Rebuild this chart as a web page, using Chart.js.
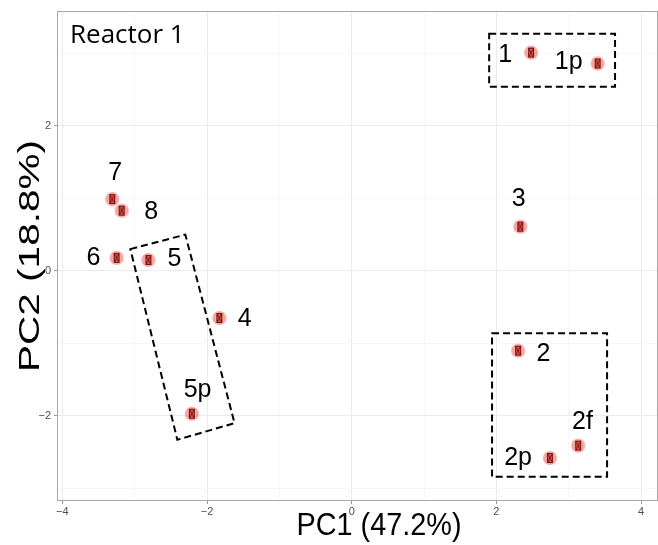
<!DOCTYPE html>
<html>
<head>
<meta charset="utf-8">
<script src="https://cdn.jsdelivr.net/npm/chart.js@4.4.0/dist/chart.umd.min.js"></script>
<style>
  html, body { margin: 0; padding: 0; background: #fff; }
  #wrap { width: 658px; height: 545px; }
</style>
</head>
<body>
<div id="wrap"><canvas id="pcaPlot" width="658" height="545"></canvas></div>
<script>
// PCA scores for the Reactor 1 samples
const sampleNames = ['1', '1p', '2', '2f', '2p', '3', '4', '5', '5p', '6', '7', '8'];
const pc1Scores = [2.48, 3.40, 2.30, 3.13, 2.74, 2.33, -1.83, -2.81, -2.21, -3.25, -3.31, -3.18];
const pc2Scores = [3.01, 2.86, -1.10, -2.41, -2.58, 0.61, -0.65, 0.15, -1.97, 0.18, 0.99, 0.83];

// where each sample name sits (data units)
const labelPc1 = [2.12, 3.00, 2.65, 3.19, 2.30, 2.31, -1.48, -2.45, -2.13, -3.57, -3.27, -2.77];
const labelPc2 = [3.01, 2.91, -1.12, -2.06, -2.56, 1.02, -0.64, 0.19, -1.61, 0.20, 1.38, 0.84];

// axis ticks
const xMajorTicks = [-4, -2, 0, 2, 4];
const xMinorTicks = [-3, -1, 1, 3];
const yMajorTicks = [-2, 0, 2];
const yMinorTicks = [-3, -1, 1, 3];

// dashed groupings (corners in data units)
const group1Corners = [[1.90, 3.27], [3.64, 3.27], [3.64, 2.54], [1.90, 2.54]];
const group2Corners = [[1.94, -0.86], [3.53, -0.86], [3.53, -2.84], [1.94, -2.84]];
const group5Corners = [[-3.06, 0.30], [-2.30, 0.50], [-1.62, -2.10], [-2.41, -2.33]];

const panelTitle = 'Reactor 1';
const xTitle = 'PC1 (47.2%)';
const yTitle = 'PC2 (18.8%)';

const sansFont = '"Liberation Sans", Arial, Helvetica, sans-serif';

// salmon dot with the small boxed glyph on top
function makeMarker() {
    const c = document.createElement('canvas');
    c.width = 16;
    c.height = 16;
    const g = c.getContext('2d');
    g.fillStyle = 'rgba(238,108,98,0.6)';
    g.beginPath();
    g.arc(8, 8, 7, 0, Math.PI * 2);
    g.fill();
    g.fillStyle = 'rgba(205,60,55,0.75)';
    g.fillRect(5, 3.5, 6, 9);
    g.strokeStyle = '#7a1212';
    g.lineWidth = 1;
    g.strokeRect(5.5, 3.5, 5, 9);
    g.beginPath();
    g.moveTo(5.5, 3.5); g.lineTo(10.5, 12.5);
    g.moveTo(10.5, 3.5); g.lineTo(5.5, 12.5);
    g.stroke();
    return c;
}

const minus = v => (v < 0 ? '\u2212' + Math.abs(v) : String(v));

function tickSet(major, minor) {
    return major.concat(minor).sort((a, b) => a - b).map(v => ({ value: v }));
}

const isMajor = (list, v) => list.indexOf(v) !== -1;

// white background, groups, names and panel border
const panelPlugin = {
    id: 'panel',
    beforeDraw(chart) {
        const ctx = chart.ctx;
        ctx.save();
        ctx.fillStyle = '#ffffff';
        ctx.fillRect(0, 0, chart.width, chart.height);
        ctx.restore();
    },
    afterDatasetsDraw(chart) {
        const { ctx, chartArea: a, scales } = chart;
        const xs = scales.x, ys = scales.y;

        // dashed groups
        ctx.save();
        ctx.strokeStyle = '#000';
        ctx.lineWidth = 2;
        ctx.setLineDash([7, 4]);
        [group1Corners, group2Corners, group5Corners].forEach(corners => {
            ctx.beginPath();
            corners.forEach((p, i) => {
                const px = xs.getPixelForValue(p[0]);
                const py = ys.getPixelForValue(p[1]);
                if (i === 0) ctx.moveTo(px, py); else ctx.lineTo(px, py);
            });
            ctx.closePath();
            ctx.stroke();
        });
        ctx.restore();

        // sample names
        const size = 25;
        ctx.save();
        ctx.fillStyle = '#000';
        ctx.font = size + 'px ' + sansFont;
        ctx.textAlign = 'center';
        ctx.textBaseline = 'alphabetic';
        sampleNames.forEach((name, i) => {
            const px = xs.getPixelForValue(labelPc1[i]);
            const py = ys.getPixelForValue(labelPc2[i]);
            ctx.fillText(name, px, py + size * 0.358);
        });

        // panel tag
        ctx.font = '26px "Open Sans", sans-serif';
        ctx.textAlign = 'left';
        ctx.fillText(panelTitle, a.left + 12, 43);
        ctx.restore();

        // border
        ctx.save();
        ctx.strokeStyle = '#a8a8a8';
        ctx.lineWidth = 1;
        ctx.strokeRect(a.left - 0.5, a.top - 0.5, a.right - a.left + 1, a.bottom - a.top + 1);
        ctx.restore();
    },
    afterDraw(chart) {
        const ctx = chart.ctx;
        // axis titles, stretched to the printed width
        const drawFitted = (text, x, y, size, width, angle) => {
            ctx.save();
            ctx.font = size + 'px ' + sansFont;
            const w = ctx.measureText(text).width;
            ctx.translate(x, y);
            ctx.rotate(angle);
            ctx.scale(width / w, 1);
            ctx.fillStyle = '#000';
            ctx.textAlign = 'center';
            ctx.textBaseline = 'alphabetic';
            ctx.fillText(text, 0, 0);
            ctx.restore();
        };
        drawFitted(xTitle, 379, 535, 31, 165, 0);
        drawFitted(yTitle, 39, 256, 29, 232, -Math.PI / 2);
    }
};

const tickFont = { family: sansFont, size: 11 };

new Chart(document.getElementById('pcaPlot'), {
    type: 'scatter',
    data: {
        datasets: [{
            data: pc1Scores.map((x, i) => ({ x: x, y: pc2Scores[i] })),
            pointStyle: makeMarker(),
            pointRadius: 7
        }]
    },
    options: {
        responsive: false,
        animation: false,
        layout: {
            autoPadding: false,
            padding: { top: 12, right: 1, left: 0, bottom: 0 }
        },
        plugins: {
            legend: { display: false },
            tooltip: { enabled: false }
        },
        scales: {
            x: {
                type: 'linear',
                min: -4.06,
                max: 4.22,
                afterBuildTicks: s => { s.ticks = tickSet(xMajorTicks, xMinorTicks); },
                afterFit: s => {
                    s.height = 45;
                    s.paddingLeft = 0;
                    s.paddingRight = 0;
                },
                border: { display: false },
                grid: {
                    color: c => isMajor(xMajorTicks, c.tick.value) ? '#ebebeb' : '#f4f4f4',
                    lineWidth: c => isMajor(xMajorTicks, c.tick.value) ? 1 : 0.7,
                    tickColor: c => isMajor(xMajorTicks, c.tick.value) ? '#9a9a9a' : 'rgba(0,0,0,0)',
                    tickLength: 4
                },
                ticks: {
                    font: tickFont,
                    color: '#4d4d4d',
                    padding: 1,
                    maxRotation: 0,
                    autoSkip: false,
                    callback: v => isMajor(xMajorTicks, v) ? minus(v) : ''
                }
            },
            y: {
                type: 'linear',
                min: -3.16,
                max: 3.57,
                afterBuildTicks: s => { s.ticks = tickSet(yMajorTicks, yMinorTicks); },
                afterFit: s => {
                    s.width = 58;
                    s.paddingTop = 0;
                    s.paddingBottom = 0;
                },
                border: { display: false },
                grid: {
                    color: c => isMajor(yMajorTicks, c.tick.value) ? '#ebebeb' : '#f4f4f4',
                    lineWidth: c => isMajor(yMajorTicks, c.tick.value) ? 1 : 0.7,
                    tickColor: c => isMajor(yMajorTicks, c.tick.value) ? '#9a9a9a' : 'rgba(0,0,0,0)',
                    tickLength: 4
                },
                ticks: {
                    font: tickFont,
                    color: '#4d4d4d',
                    padding: 3,
                    autoSkip: false,
                    callback: v => isMajor(yMajorTicks, v) ? minus(v) : ''
                }
            }
        }
    },
    plugins: [panelPlugin]
});
</script>
</body>
</html>
